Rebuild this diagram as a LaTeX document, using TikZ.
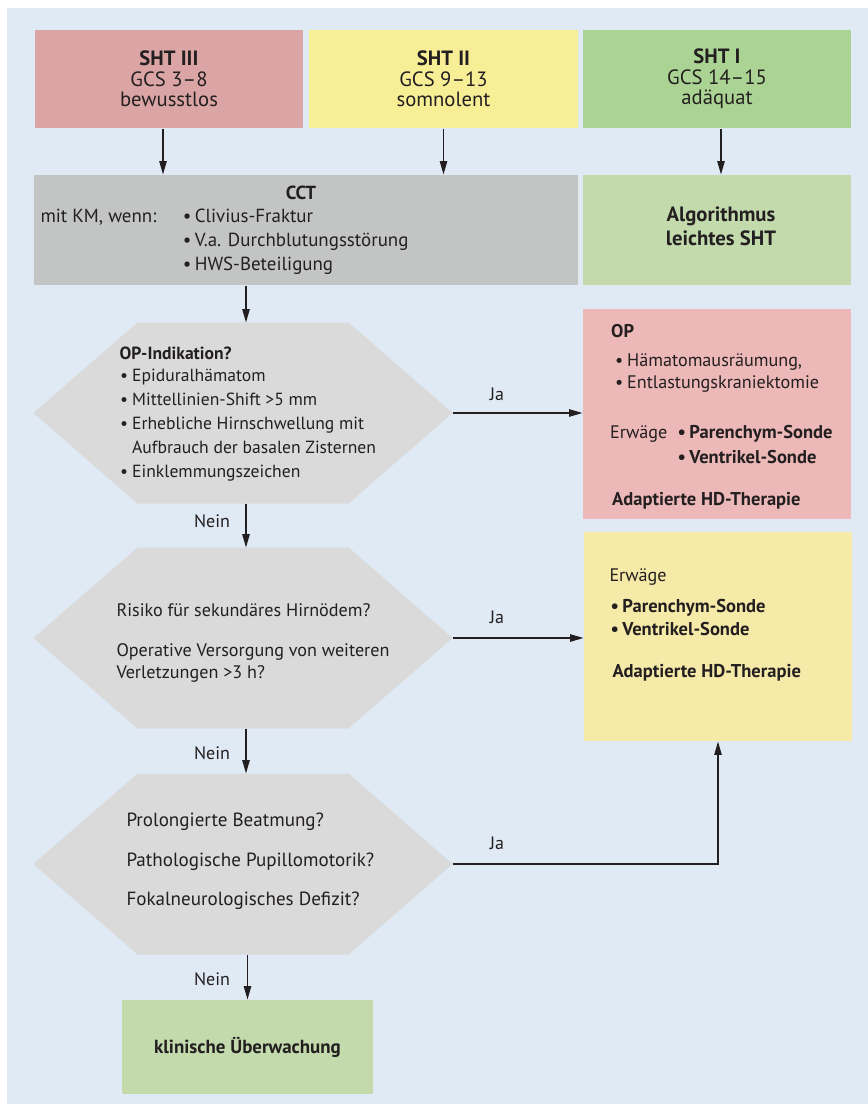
\documentclass[tikz,border=0pt]{standalone}
\usepackage{fontspec}
\setmainfont{PT Sans}
\usetikzlibrary{arrows.meta,calc}

\definecolor{bgblue}{HTML}{E0EAF4}
\definecolor{shtred}{HTML}{DBA5A5}
\definecolor{shtyellow}{HTML}{F7EE96}
\definecolor{shtgreen}{HTML}{ABD494}
\definecolor{cctgray}{HTML}{C3C4C4}
\definecolor{lightgreen}{HTML}{C3DAAC}
\definecolor{hexgray}{HTML}{DADADA}
\definecolor{opred}{HTML}{EDB8B8}
\definecolor{sondeyellow}{HTML}{F5EAA8}
\definecolor{inkdark}{HTML}{231F20}

\newcommand{\itm}{\makebox[9pt][l]{•}}
\newcommand{\hexfill}[1]{%
	\fill[hexgray] ($(#1.north west)+(104,0)$) -- ($(#1.north east)+(-104,0)$) -- (#1.east)
		-- ($(#1.south east)+(-104,0)$) -- ($(#1.south west)+(104,0)$) -- (#1.west) -- cycle;}

\tikzset{every picture/.style={line width=0.75pt}}
\tikzset{
	box/.style={rectangle, inner sep=0pt, align=center, text=inkdark},
	topbox/.style={box, minimum width=201pt, minimum height=73.5pt, font=\fontsize{15.5}{15.4}\selectfont},
	hexbox/.style={rectangle, inner sep=0pt, minimum width=313.5pt, minimum height=135pt},
	txt/.style={anchor=base west, inner sep=0pt, text=inkdark, font=\fontsize{13.2}{15}\selectfont},
	bold/.style={font=\bfseries\fontsize{#1}{15}\selectfont},
	size/.style={font=\fontsize{#1}{15}\selectfont},
	lbl/.style={anchor=base, inner sep=0pt, text=inkdark, font=\fontsize{13.5}{15}\selectfont},
	arr/.style={-{Triangle[length=10pt,width=5.5pt]}, line width=1pt, draw=inkdark}
}

\begin{document}
\begin{tikzpicture}[x=0.75pt,y=0.75pt,yscale=-1,xscale=1]
	\useasboundingbox (0,0) rectangle (868,1104);
	% background panel
	\fill[bgblue] (7,8) rectangle (868,1104);

	% SHT grades
	\node[topbox, fill=shtred] (sht3) at (169,79) {\textbf{SHT III}\\GCS 3–8\\bewusstlos};
	\node[topbox, fill=shtyellow, minimum width=201.75pt] (sht2) at (443.5,79) {\textbf{SHT II}\\GCS 9–13\\somnolent};
	\node[topbox, fill=shtgreen] (sht1) at (717,79) {\textbf{SHT I}\\GCS 14–15\\adäquat};

	% CCT and mild SHT
	\node[box, fill=cctgray, minimum width=408pt, minimum height=82.5pt] (cct) at (306,230) {};
	\node[box, fill=lightgreen, minimum width=201pt, minimum height=82.5pt, font=\bfseries\fontsize{15.5}{17.5}\selectfont] (algo) at (717,230) {};
	\node[txt, anchor=base, bold=15.5] (algoa) at (721,221.7) {Algorithmus};
	\node[txt, anchor=base, bold=15.5] (algob) at (721,245) {leichtes SHT};

	% Text Node
	\node[txt, anchor=base, bold=14.2] (ccthead) at (301,199.3) {CCT};
	\node[txt, size=14.2] (cctkm) at (40,222.7) {mit KM, wenn:};
	\foreach \t [count=\i] in {Clivius-Fraktur, V.a. Durchblutungsstörung, HWS-Beteiligung}
		\node[txt, size=14.2] (cctitem\i) at (182.3,{222.7+24*(\i-1)}) {\itm\t};

	% decision hexagons
	\node[hexbox] (q1) at (243,413) {};
	\node[hexbox] (q2) at (243,638) {};
	\node[hexbox] (q3) at (243,864) {};
	\foreach \q in {q1,q2,q3} {\hexfill{\q}}

	% Text Node
	\node[txt, bold=13.2] (q1head) at (119,359) {OP-Indikation?};
	\node[txt] (q1a) at (119.7,381.7) {\itm Epiduralhämatom};
	\node[txt] (q1b) at (119.7,405.7) {\itm Mittellinien-Shift >5 mm};
	\node[txt] (q1c) at (119.7,429.3) {\itm Erhebliche Hirnschwellung mit};
	\node[txt] (q1d) at (131.7,453.3) {Aufbrauch der basalen Zisternen};
	\node[txt] (q1e) at (119.7,477.7) {\itm Einklemmungszeichen};

	\node[txt, size=13.6] (q2a) at (116,616) {Risiko für sekundäres Hirnödem?};
	\node[txt, size=13.6] (q2b) at (116,656) {Operative Versorgung von weiteren};
	\node[txt, size=13.6] (q2c) at (116,678.3) {Verletzungen >3 h?};

	\node[txt, size=14.3] (q3a) at (126,826.7) {Prolongierte Beatmung?};
	\node[txt, size=14.3] (q3b) at (126,866) {Pathologische Pupillomotorik?};
	\node[txt, size=14.3] (q3c) at (126,905.7) {Fokalneurologisches Defizit?};

	% result boxes
	\node[box, fill=opred, minimum width=201pt, minimum height=157.5pt] (op) at (717,414) {};
	\node[box, fill=sondeyellow, minimum width=201pt, minimum height=156.75pt] (sonde) at (718,636.5) {};
	\node[box, fill=lightgreen, minimum width=188.25pt, minimum height=70.5pt, bold=14.2] (klin) at (247.5,1047) {klinische Überwachung};

	% Text Node
	\node[txt, bold=13.8] (ophead) at (610.7,337.3) {OP};
	\node[txt, size=13.6] (opa) at (614.7,366.7) {\itm Hämatomausräumung,};
	\node[txt, size=13.6] (opb) at (614.7,388.3) {\itm Entlastungskraniektomie};
	\node[txt, size=13.6] (operw) at (609.7,438.3) {Erwäge};
	\node[txt, bold=13.9] (opc) at (677,438.3) {\itm Parenchym-Sonde};
	\node[txt, bold=13.9] (opd) at (677,463.3) {\itm Ventrikel-Sonde};
	\node[txt, bold=13.9] (ophd) at (611.7,505) {Adaptierte HD-Therapie};

	\node[txt, size=13.6] (sonerw) at (609,581.7) {Erwäge};
	\node[txt, bold=13.9] (sona) at (610,612.7) {\itm Parenchym-Sonde};
	\node[txt, bold=13.9] (sonb) at (610,635) {\itm Ventrikel-Sonde};
	\node[txt, bold=13.9] (sonhd) at (612,677.3) {Adaptierte HD-Therapie};

	% connectors
	\draw[arr] ([xshift=-4.5pt]sht3.south) -- ([xshift=-4.5pt]sht3.south |- cct.north);
	\draw[arr] (sht2.south) -- (sht2.south |- cct.north);
	\draw[arr] ([xshift=3pt]sht1.south) -- ([xshift=3pt]sht1.south |- algo.north);
	\draw[arr] ([xshift=2.25pt]q1.north |- cct.south) -- ([xshift=2.25pt]q1.north);
	\draw[arr] ([xshift=2.25pt]q1.south) -- ([xshift=2.25pt]q2.north);
	\draw[arr] ([xshift=2.25pt]q2.south) -- ([xshift=2.25pt]q3.north);
	\draw[arr] (klin.north |- q3.south) -- (klin.north);
	\draw[arr] (q1.east) -- (q1.east -| op.west);
	\draw[arr] (q2.east) -- (q2.east -| sonde.west);
	\draw[arr] (q3.east) -| (sonde.south);

	% Text Node
	\node[lbl] (ja1) at (497,400) {Ja};
	\node[lbl] (ja2) at (497,623.3) {Ja};
	\node[lbl] (ja3) at (497,849) {Ja};
	\node[lbl] (nein1) at (212,527) {Nein};
	\node[lbl] (nein2) at (212,759.3) {Nein};
	\node[lbl] (nein3) at (212,985) {Nein};
\end{tikzpicture}
\end{document}
